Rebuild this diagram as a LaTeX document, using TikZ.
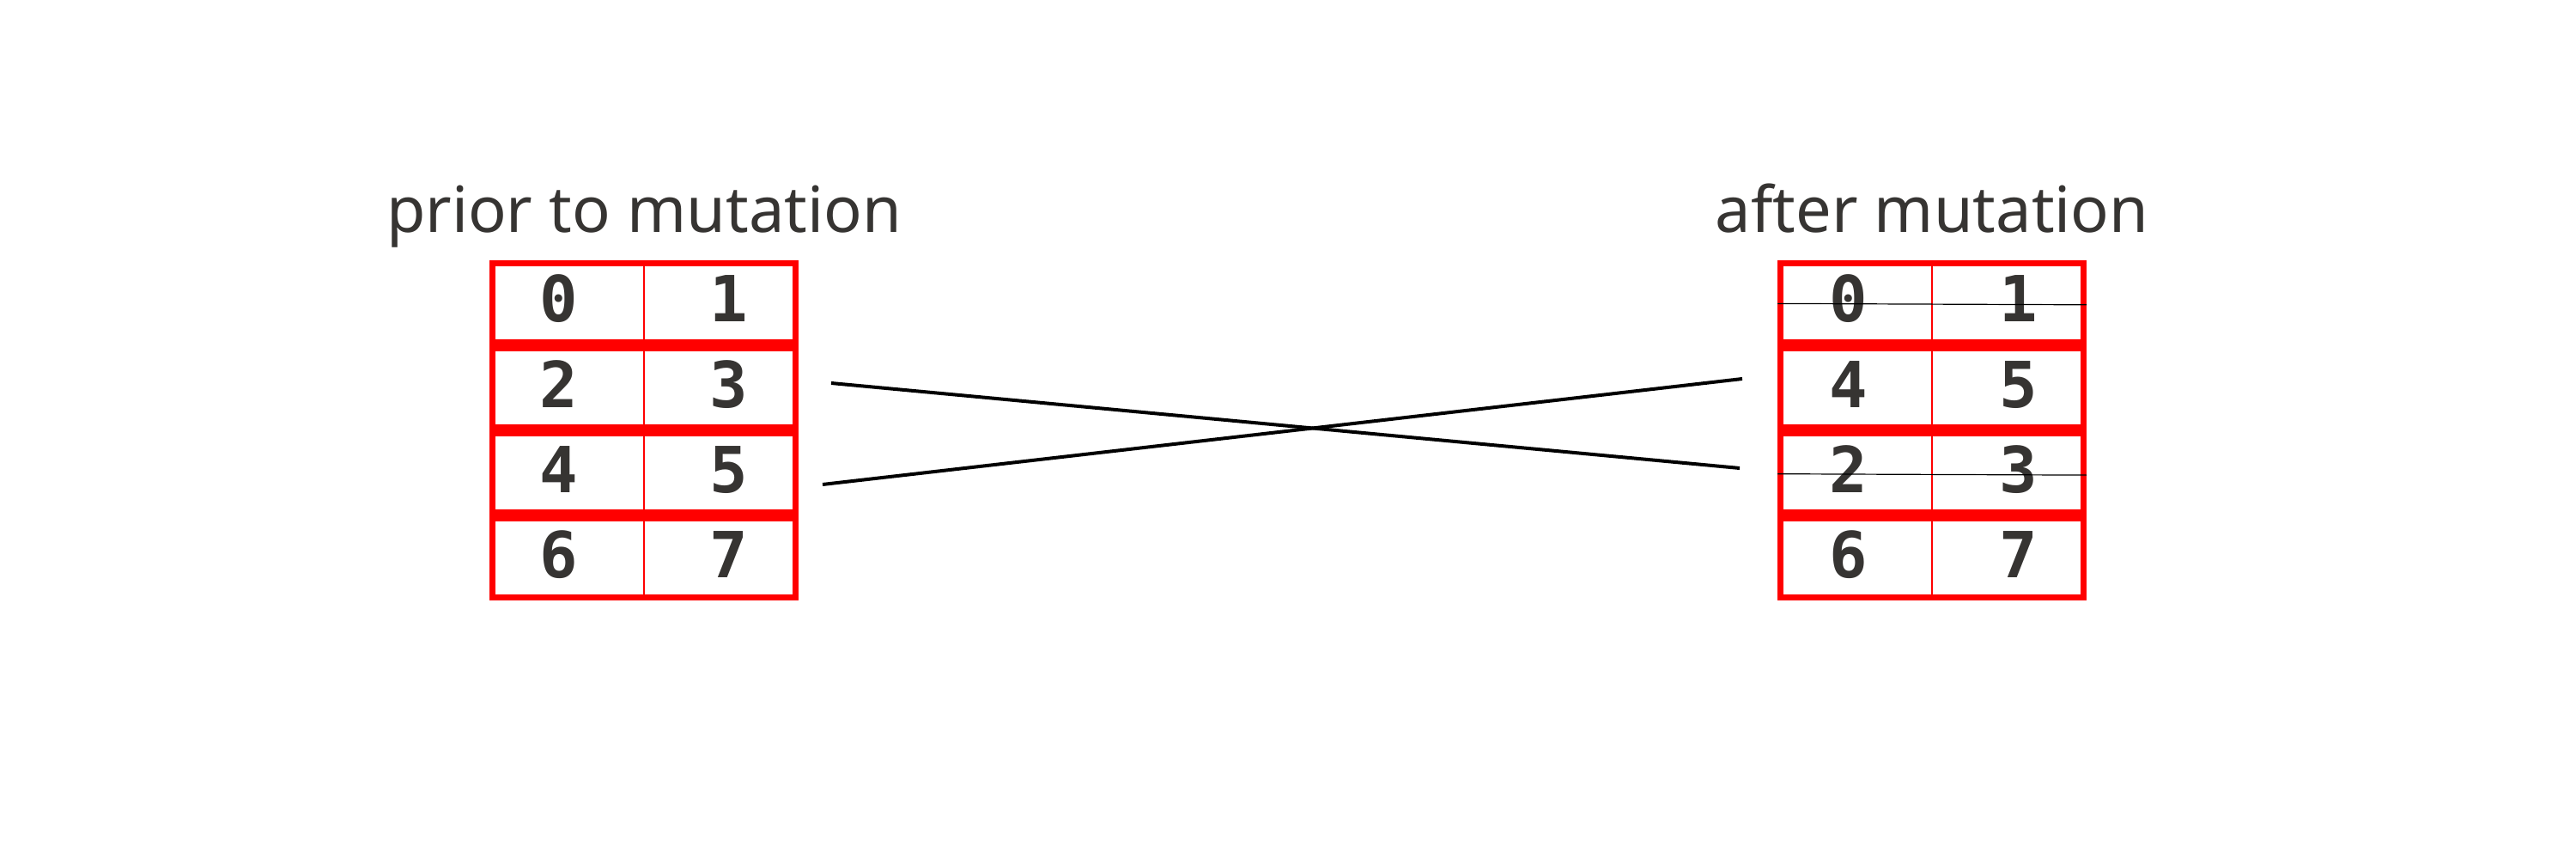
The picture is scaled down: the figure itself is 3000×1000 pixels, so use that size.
\documentclass[tikz,border=0pt]{standalone}
\usepackage{fontspec}
\setmainfont{Noto Sans}
\newfontfamily\digitfont{DejaVu Sans Mono}
\definecolor{ink}{RGB}{54,52,50}
\definecolor{pure red}{RGB}{255,0,0}
\begin{document}
\begin{tikzpicture}[x=0.5pt,y=-0.5pt,
  rowbox/.style={draw=pure red,line width=3.35pt,minimum width=176.65pt,minimum height=46.15pt,inner sep=0pt},
  divider/.style={draw=pure red,line width=1pt},
  digit/.style={anchor=base,text=ink,inner sep=0pt,font=\digitfont\bfseries\fontsize{37pt}{44pt}\selectfont},
  title/.style={anchor=base,text=ink,inner sep=0pt,font=\fontsize{37pt}{44pt}\selectfont},
  strike/.style={draw=black,line width=0.6pt},
  connector/.style={draw=black,line width=2pt}]
\useasboundingbox (0,0) rectangle (3000,1000);
\fill[white] (0,0) rectangle (3000,1000);
% titles
\node[title] (tL) at (750,271) {prior to mutation};
\node[title] (tR) at (2250,271) {after mutation};
% left table
\foreach \i/\a/\b in {0/0/1,1/2/3,2/4/5,3/6/7}{
  \node[rowbox] (L\i) at (750,{352.5+99*\i}) {};
  \draw[divider] (L\i.north) -- (L\i.south);
  \node[digit] (L\i a) at (651,{375+99*\i}) {\a};
  \node[digit] (L\i b) at (849,{375+99*\i}) {\b};
}
% right table
\foreach \i/\a/\b in {0/0/1,1/4/5,2/2/3,3/6/7}{
  \node[rowbox] (R\i) at (2250,{352.5+99*\i}) {};
  \draw[divider] (R\i.north) -- (R\i.south);
  \node[digit] (R\i a) at (2153,{375+99*\i}) {\a};
  \node[digit] (R\i b) at (2351,{375+99*\i}) {\b};
}
% strike-through lines
\coordinate (s0l) at (2070,353.4);
\coordinate (s0r) at (2430,354.8);
\coordinate (s2l) at (2070,551.7);
\coordinate (s2r) at (2430,553.1);
\draw[strike] (s0l) -- (s0r);
\draw[strike] (s2l) -- (s2r);
% connectors
\coordinate (cA1) at (968,446);
\coordinate (cA2) at (2026,545);
\coordinate (cB1) at (958,564);
\coordinate (cB2) at (2029,441);
\draw[connector] (cA1) -- (cA2);
\draw[connector] (cB1) -- (cB2);
\end{tikzpicture}
\end{document}
